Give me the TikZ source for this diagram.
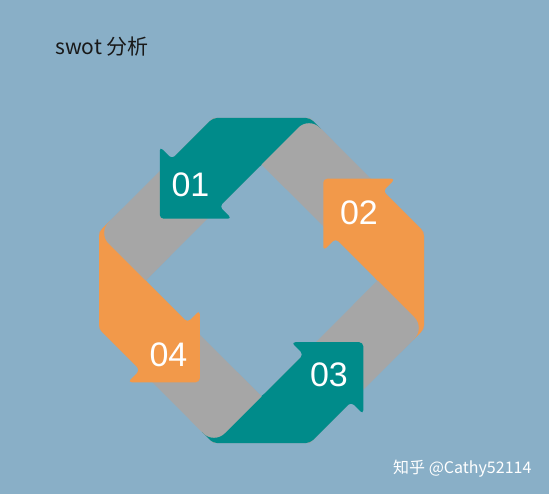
\documentclass[tikz,border=0pt]{standalone}
\usepackage{fontspec}
\setmainfont{Liberation Sans}
\newfontfamily\cjkfont{Noto Sans CJK SC}
\definecolor{bgblue}{RGB}{137,175,199}
\definecolor{tealc}{RGB}{0,139,138}
\definecolor{orngc}{RGB}{242,153,74}
\definecolor{grayc}{RGB}{166,166,166}
\begin{document}
\begin{tikzpicture}[x=1pt,y=-1pt,
  numlbl/.style={inner sep=0pt, text=white, font=\fontsize{34}{40}\selectfont},
  arrowpiece/.style={rounded corners=4pt},
  ringfill/.style={fill=grayc, even odd rule}]
\useasboundingbox (0,0) rectangle (549,494);
\fill[bgblue] (0,0) rectangle (549,494);
\begin{scope}[shift={(261.5,280.5)}]
  % gray ring
  \path[ringfill] (-48.5,-162.5) -- (48.5,-162.5) -- (162.5,-48.5) -- (162.5,48.5)
     -- (48.5,162.5) -- (-48.5,162.5) -- (-162.5,48.5) -- (-162.5,-48.5) -- cycle
     (0,-116) -- (116,0) -- (0,116) -- (-116,0) -- cycle;
  % four arrows
  \foreach \ang/\col in {0/tealc,-90/orngc,-180/tealc,-270/orngc}{
    \fill[\col, rotate=\ang, arrowpiece] (-48.5,-162.5) -- (48.5,-162.5) -- (62,-149)
      -- (0,-116) -- (-42,-74) -- (-29.75,-61.75) -- (-101.75,-61.75)
      -- (-101.75,-133.75) -- (-89.5,-121.5) -- cycle;
  }
  % gray fold ends over the arrow starts
  \foreach \ang in {0,-90,-180,-270}{
    \fill[grayc, rotate=\ang] (0,-116) -- (36.9,-152.9)
      .. controls (42.75,-158.75) and (52.25,-158.75) .. (58.1,-152.9)
      -- (72,-139) -- (24.5,-91.5) -- cycle;
  }
\end{scope}
\node[numlbl] (n1) at (190.5,185) {01};
\node[numlbl] (n2) at (359,212.5) {02};
\node[numlbl] (n3) at (329,375) {03};
\node[numlbl] (n4) at (168.5,354.5) {04};
\node[anchor=base west, inner sep=0pt, text=black!90, font=\cjkfont\fontsize{21}{24}\selectfont] (title) at (55,54.5) {swot 分析};
\node[anchor=base west, inner sep=0pt, text=white, font=\cjkfont\fontsize{16}{18}\selectfont] (wm) at (393,473) {知乎 @Cathy52114};
\end{tikzpicture}
\end{document}
